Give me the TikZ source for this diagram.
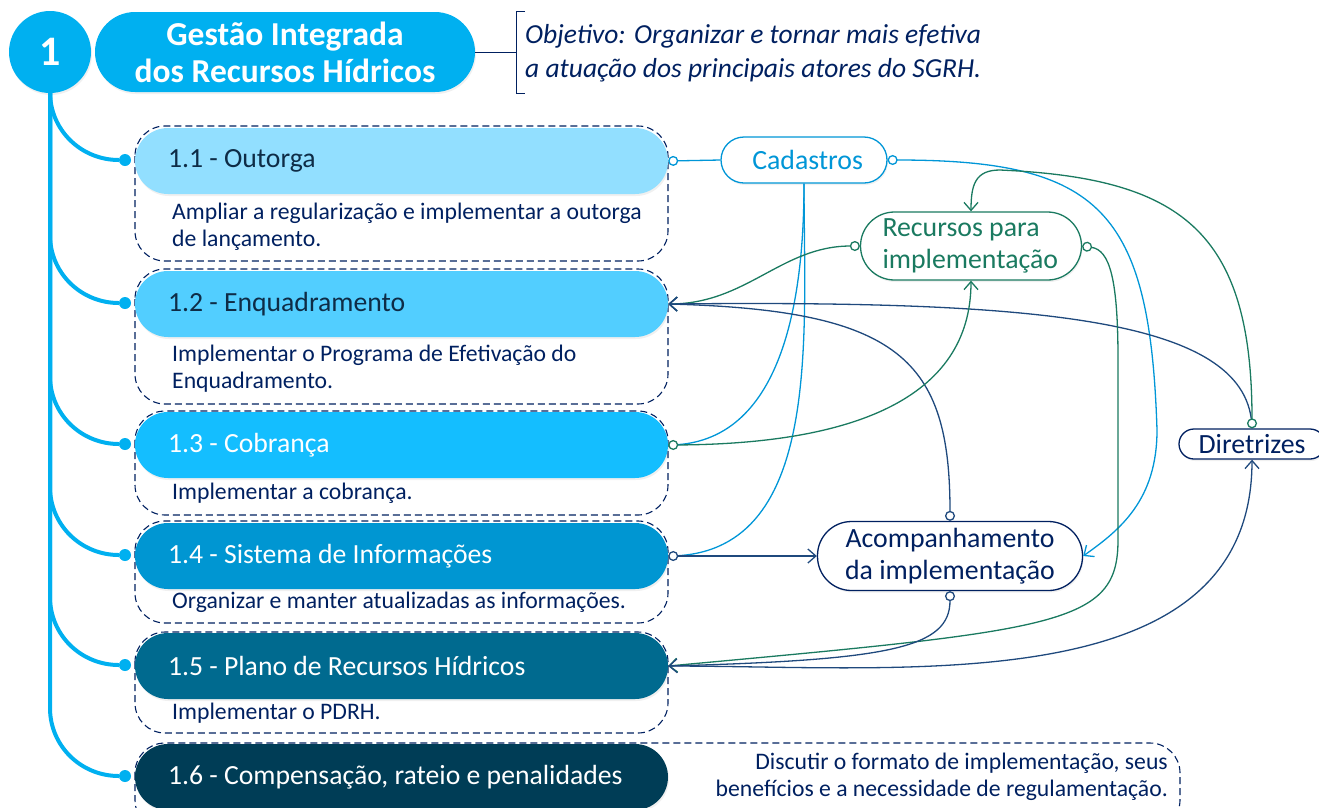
\documentclass[tikz,border=0pt]{standalone}
\usepackage{fontspec}
\setmainfont{Carlito}
\usetikzlibrary{positioning,arrows.meta,shapes.misc,shadows}

\definecolor{azul}{RGB}{0,176,240}
\definecolor{marinho}{RGB}{0,32,96}
\definecolor{azulesc}{RGB}{31,73,125}
\definecolor{verde}{RGB}{26,122,96}
\definecolor{ciano}{RGB}{0,150,215}
\definecolor{cor1}{RGB}{146,223,255}
\definecolor{cor2}{RGB}{82,206,255}
\definecolor{cor3}{RGB}{20,190,255}
\definecolor{cor4}{RGB}{0,150,210}
\definecolor{cor5}{RGB}{0,106,143}
\definecolor{cor6}{RGB}{0,61,86}
\definecolor{escuro}{RGB}{14,44,70}

\newcommand{\cabeca}[1]{\makebox[467pt][l]{#1}}

\tikzset{
  sombra/.style={drop shadow={opacity=0.12,shadow xshift=1pt,shadow yshift=-2pt}},
  tema/.style={rectangle, rounded corners=33pt, minimum height=66pt, minimum width=533pt,
    inner xsep=33pt, inner ysep=0pt, font=\fontsize{27.7}{32}\selectfont, sombra},
  caixa/.style={draw=marinho, line width=1.1pt, rounded corners=30pt, dash pattern=on 7pt off 4pt},
  desc/.style={anchor=west, text=marinho, align=left, inner sep=0pt, font=\fontsize{23.7}{27}\selectfont},
  ponto/.style={circle, fill=azul, inner sep=0pt, minimum size=12pt},
  galho/.style={azul, line width=4pt},
  apoio/.style={rectangle, fill=white, line width=1.3pt, align=center, inner sep=0pt,
    font=\fontsize{27.8}{32}\selectfont, sombra},
  fio/.style={line width=1.3pt},
  ini/.style={arrows={{Circle[fill=white,length=10pt]}-}},
  fim/.style={arrows={-{Straight Barb[length=8pt,width=14pt]}}},
  inifim/.style={arrows={{Circle[fill=white,length=10pt]}-{Straight Barb[length=8pt,width=14pt]}}}
}

\begin{document}
\begin{tikzpicture}[x=1pt, y=-1pt]
\useasboundingbox (0,0) rectangle (1319,807);

% caixas tracejadas
\draw[caixa] (135,126) rectangle (668,261);
\draw[caixa] (135,269) rectangle (668,404);
\draw[caixa] (135,411) rectangle (668,515);
\draw[caixa] (135,521) rectangle (668,623);
\draw[caixa] (135,632) rectangle (668,733);
\draw[caixa] (135,743) rectangle (1180,830);

% raiz
\node[circle, fill=azul, minimum size=82pt, inner sep=0pt, text=white, sombra,
  font=\fontsize{42}{42}\selectfont\bfseries] (um) at (50,52) {1};
\node[rectangle, rounded corners=40pt, fill=azul, minimum width=380pt, minimum height=80pt,
  inner sep=0pt, text=white, align=center, sombra,
  font=\fontsize{33.5}{37}\selectfont\bfseries] (titulo) at (285,52) {Gestão Integrada\\dos Recursos Hídricos};

\coordinate (chave) at (516,52);
\draw[marinho, line width=1pt] (titulo.east) -- (chave);
\draw[marinho, line width=1pt] (525,11) -- (516,11) -- (516,93) -- (525,93);
\node[anchor=west, inner sep=0pt, text=marinho, align=left,
  font=\itshape\fontsize{27.5}{34}\selectfont] (objetivo) at (525,53)
  {Objetivo: Organizar e tornar mais efetiva\\a atuação dos principais atores do SGRH.};

% galhos
\foreach \n/\y in {1/160,2/303,3/444,4/555,5/665,6/776}{
  \node[ponto] (p\n) at (125,\y) {};
  \draw[galho] (um.south) -- (50,\y-68) to[out=-90, in=180] (p\n);
}

% temas
\node[tema, fill=cor1, text=escuro] (t1) at (401.5,161) {\cabeca{1.1 - Outorga}};
\node[tema, fill=cor2, text=escuro] (t2) at (401.5,304) {\cabeca{1.2 - Enquadramento}};
\node[tema, fill=cor3, text=white] (t3) at (401.5,445) {\cabeca{1.3 - Cobrança}};
\node[tema, fill=cor4, text=white] (t4) at (401.5,556) {\cabeca{1.4 - Sistema de Informações}};
\node[tema, fill=cor5, text=white] (t5) at (401.5,666) {\cabeca{1.5 - Plano de Recursos Hídricos}};
\node[tema, fill=cor6, text=white] (t6) at (401.5,777) {\cabeca{1.6 - Compensação, rateio e penalidades}};

\node[desc] (e1) at (172,227) {Ampliar a regularização e implementar a outorga\\de lançamento.};
\node[desc] (e2) at (172,369) {Implementar o Programa de Efetivação do\\Enquadramento.};
\node[desc] (e3) at (172,493) {Implementar a cobrança.};
\node[desc] (e4) at (172,602) {Organizar e manter atualizadas as informações.};
\node[desc] (e5) at (172,713) {Implementar o PDRH.};
\node[desc, anchor=east, align=right] (e6) at (1168,777)
  {Discutir o formato de implementação, seus\\benefícios e a necessidade de regulamentação.};

% apoios
\node[apoio, draw=ciano, text=ciano, rounded corners=23pt, minimum width=166pt, minimum height=46pt,
  text width=118pt, align=flush right] (cad) at (804,160) {Cadastros};
\node[apoio, draw=verde, text=verde, rounded corners=34pt, minimum width=221pt, minimum height=68pt,
  text width=177pt, align=flush left] (rec) at (971,246) {Recursos para\\implementação};
\node[apoio, draw=marinho, text=marinho, rounded corners=34pt, minimum width=265pt, minimum height=69pt] (aco) at (950,556) {Acompanhamento\\da implementação};
\node[apoio, draw=marinho, text=marinho, rounded corners=15pt, minimum width=146pt, minimum height=30pt] (dir) at (1252,444) {Diretrizes};

% ligacoes
\draw[fio, ciano, ini] (t1.east) -- (cad.west);
\draw[fio, ciano] (t3.east) to[out=0, in=-90] (cad.south);
\draw[fio, ciano] (t4.east) to[out=0, in=-90] (cad.south);
\draw[fio, ciano, inifim] (cad.east) .. controls (1100,160) and (1150,210) .. (1157,430)
  .. controls (1157,500) and (1120,530) .. (aco.east);
\draw[fio, verde, inifim] (rec.west) to[out=180, in=0] (t2.east);
\draw[fio, azulesc, fim] (dir.north) .. controls (1250,320) and (1050,300) .. (t2.east);
\draw[fio, azulesc, inifim] (aco.north) .. controls (950,360) and (900,310) .. (t2.east);
\draw[fio, verde, inifim] (t3.east) .. controls (850,444) and (971,400) .. (rec.south);
\draw[fio, verde, inifim] (dir.north) .. controls (1252,230) and (1180,178) .. (1000,170)
  .. controls (975,170) and (971,185) .. (rec.north);
\draw[fio, verde, inifim] (rec.east) .. controls (1110,250) and (1118,280) .. (1118,360)
  -- (1118,540) .. controls (1118,625) and (1060,630) .. (t5.east);
\draw[fio, azulesc, inifim] (aco.south) .. controls (950,648) and (890,660) .. (t5.east);
\draw[fio, azulesc, fim] (t5.east) to[out=0, in=-90] (dir.south);
\draw[fio, azulesc, inifim] (t4.east) -- (aco.west);

\end{tikzpicture}
\end{document}
